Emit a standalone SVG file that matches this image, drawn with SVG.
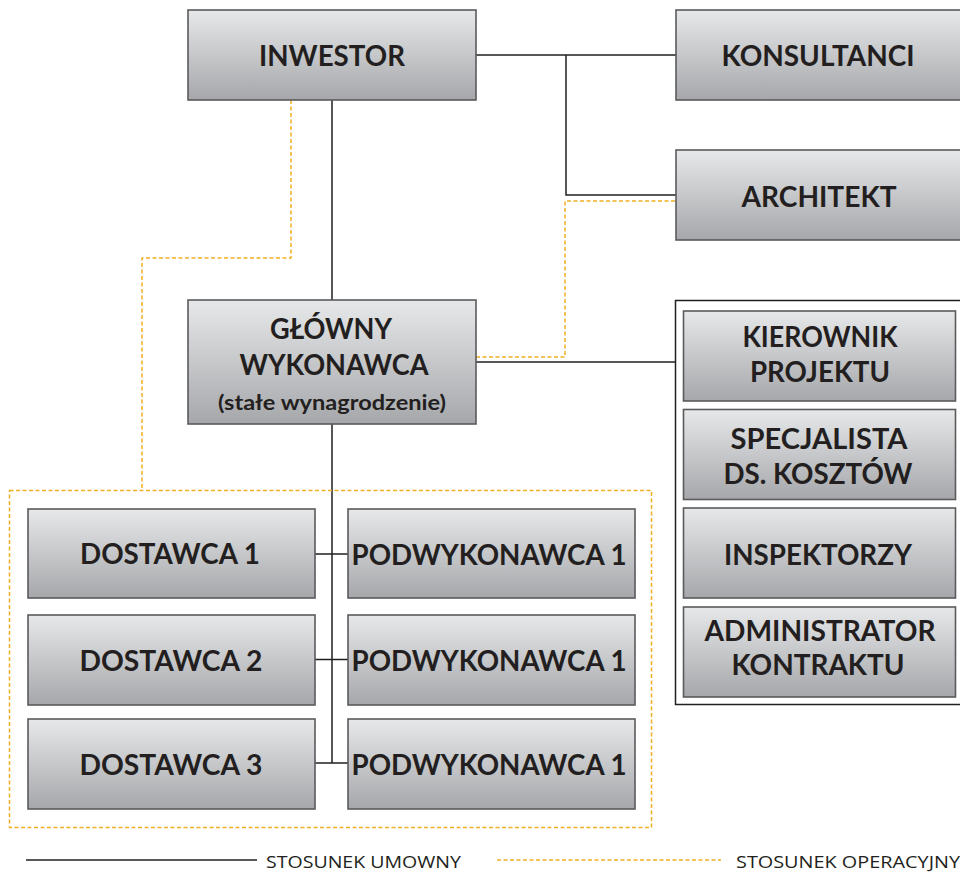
<svg xmlns="http://www.w3.org/2000/svg" width="960" height="875" viewBox="0 0 960 875">
<defs>
<linearGradient id="g" x1="0" y1="0" x2="0" y2="1">
<stop offset="0" stop-color="#e7e8ea"/>
<stop offset="1" stop-color="#a5a7aa"/>
</linearGradient>
</defs>
<style>
.box{fill:url(#g);stroke:#5a5b5d;stroke-width:1.6}
.t{font-family:Lato,"Open Sans","Liberation Sans",sans-serif;font-weight:700;font-size:29px;fill:#231f20;text-anchor:middle}
.t2{font-size:28.5px}
.s{font-size:20px}
.c{fill:none;stroke:#231f20;stroke-width:1.5}
.o{fill:none;stroke:#efb024;stroke-width:1.5;stroke-dasharray:4 2.5}
.lg{font-family:"Open Sans","Liberation Sans",sans-serif;font-size:17px;fill:#231f20}
</style>
<rect width="960" height="875" fill="#fff"/>
<g id="connectors">
<path class="c" d="M476 55H676M566 55V195H676M332 100V300M476 362H676M332 424V763M315 554H348M315 659.5H348M315 763H348"/>
<path class="o" d="M291 100V258H142V490M476 357H565V201H676"/>
<rect class="o" x="9.5" y="490.5" width="642" height="337"/>
</g>
<g id="inwestor"><rect class="box" x="188" y="10" width="288" height="90"/><text class="t" x="332" y="66" textLength="146" lengthAdjust="spacingAndGlyphs">INWESTOR</text></g>
<g id="konsultanci"><rect class="box" x="676" y="10" width="290" height="90"/><text class="t" x="818" y="66" textLength="193" lengthAdjust="spacingAndGlyphs">KONSULTANCI</text></g>
<g id="architekt"><rect class="box" x="676" y="150" width="290" height="90"/><text class="t" x="819" y="207" textLength="155" lengthAdjust="spacingAndGlyphs">ARCHITEKT</text></g>
<g id="glowny"><rect class="box" x="188" y="300" width="288" height="124"/>
<text class="t t2"><tspan x="331" y="339" textLength="122" lengthAdjust="spacingAndGlyphs">GŁÓWNY</tspan><tspan x="334" y="375" textLength="189" lengthAdjust="spacingAndGlyphs">WYKONAWCA</tspan><tspan class="s" x="332" y="410" textLength="228" lengthAdjust="spacingAndGlyphs">(stałe wynagrodzenie)</tspan></text></g>
<g id="zespol"><rect x="675.5" y="300.5" width="300" height="404" fill="#fff" stroke="#231f20" stroke-width="1.5"/></g>
<g id="kierownik"><rect class="box" x="683.5" y="311" width="272" height="90"/>
<text class="t t2"><tspan x="820" y="347" textLength="155" lengthAdjust="spacingAndGlyphs">KIEROWNIK</tspan><tspan x="820" y="382" textLength="140" lengthAdjust="spacingAndGlyphs">PROJEKTU</tspan></text></g>
<g id="specjalista"><rect class="box" x="683.5" y="409.5" width="272" height="90"/>
<text class="t t2"><tspan x="819" y="449" textLength="177" lengthAdjust="spacingAndGlyphs">SPECJALISTA</tspan><tspan x="818" y="484" textLength="189" lengthAdjust="spacingAndGlyphs">DS. KOSZTÓW</tspan></text></g>
<g id="inspektorzy"><rect class="box" x="683.5" y="508" width="272" height="90"/>
<text class="t" x="818" y="565" textLength="188" lengthAdjust="spacingAndGlyphs">INSPEKTORZY</text></g>
<g id="administrator"><rect class="box" x="683.5" y="607" width="272" height="90"/>
<text class="t t2"><tspan x="820" y="641" textLength="231" lengthAdjust="spacingAndGlyphs">ADMINISTRATOR</tspan><tspan x="818" y="675" textLength="173" lengthAdjust="spacingAndGlyphs">KONTRAKTU</tspan></text></g>
<g id="dostawca1"><rect class="box" x="28" y="509" width="287" height="89"/><text class="t" x="170" y="564" textLength="180" lengthAdjust="spacingAndGlyphs">DOSTAWCA 1</text></g>
<g id="dostawca2"><rect class="box" x="28" y="615" width="287" height="90"/><text class="t" x="171" y="671" textLength="183" lengthAdjust="spacingAndGlyphs">DOSTAWCA 2</text></g>
<g id="dostawca3"><rect class="box" x="28" y="719" width="287" height="90"/><text class="t" x="171" y="775" textLength="183" lengthAdjust="spacingAndGlyphs">DOSTAWCA 3</text></g>
<g id="podwykonawca1"><rect class="box" x="348" y="509" width="287" height="89"/><text class="t" x="489" y="565" textLength="275" lengthAdjust="spacingAndGlyphs">PODWYKONAWCA 1</text></g>
<g id="podwykonawca2"><rect class="box" x="348" y="615" width="287" height="90"/><text class="t" x="489" y="671" textLength="275" lengthAdjust="spacingAndGlyphs">PODWYKONAWCA 1</text></g>
<g id="podwykonawca3"><rect class="box" x="348" y="719" width="287" height="90"/><text class="t" x="489" y="775" textLength="275" lengthAdjust="spacingAndGlyphs">PODWYKONAWCA 1</text></g>
<g id="legend">
<path class="c" d="M26 860H257"/>
<text class="lg" x="266" y="868" textLength="195" lengthAdjust="spacingAndGlyphs">STOSUNEK UMOWNY</text>
<path class="o" d="M497 860H721"/>
<text class="lg" x="736" y="868" textLength="224" lengthAdjust="spacingAndGlyphs">STOSUNEK OPERACYJNY</text>
</g>
</svg>
